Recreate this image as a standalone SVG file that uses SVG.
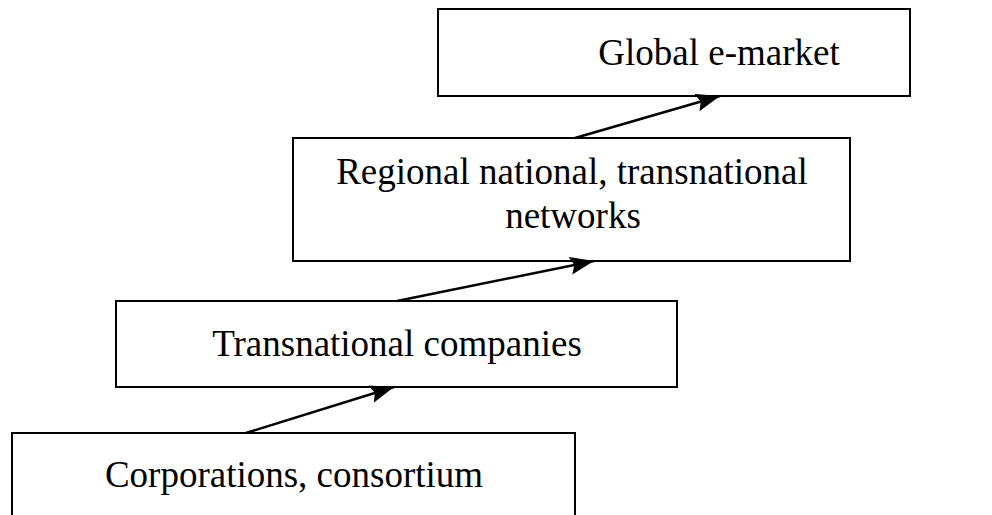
<svg xmlns="http://www.w3.org/2000/svg" width="992" height="515" viewBox="0 0 992 515">
<style>
.box{fill:#fff;stroke:#000;stroke-width:2}
.t{font-family:"Liberation Serif","Times New Roman",serif;font-size:37px;fill:#000;text-anchor:middle}
.c{stroke:#000;stroke-width:2.5;fill:none}
</style>
<defs>
<marker id="a" markerUnits="userSpaceOnUse" markerWidth="26" markerHeight="20" refX="24" refY="9" orient="auto">
<path d="M0,0 L24,9 L0,18 L4,9 Z" fill="#000"/>
</marker>
</defs>
<rect width="992" height="515" fill="#fff"/>
<g id="global">
<rect class="box" x="438" y="9" width="472" height="87"/>
<text class="t" x="719" y="65">Global e-market</text>
</g>
<g id="regional">
<rect class="box" x="293" y="138" width="557" height="123"/>
<text class="t" x="572" y="184">Regional national, transnational</text>
<text class="t" x="573" y="228">networks</text>
</g>
<g id="transnational">
<rect class="box" x="116" y="301" width="561" height="86"/>
<text class="t" x="397" y="356">Transnational companies</text>
</g>
<g id="corporations">
<rect class="box" x="12" y="433" width="563" height="100"/>
<text class="t" x="294" y="487">Corporations, consortium</text>
</g>
<g id="connectors">
<line class="c" x1="246" y1="433" x2="394" y2="387" marker-end="url(#a)"/>
<line class="c" x1="397" y1="301" x2="594" y2="261" marker-end="url(#a)"/>
<line class="c" x1="575" y1="138" x2="720" y2="96" marker-end="url(#a)"/>
</g>
</svg>
